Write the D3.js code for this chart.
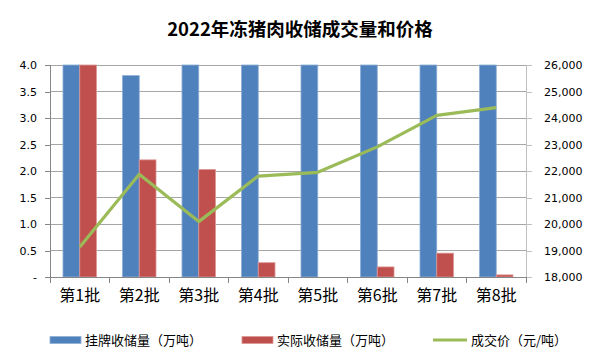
<!DOCTYPE html>
<html><head><meta charset="utf-8">
<script src="https://cdn.jsdelivr.net/npm/d3@7"></script>
<style>body{margin:0;background:#fff}</style>
</head><body>
<svg id="c" width="600" height="360"></svg>
<script>
const title = "2022年冻猪肉收储成交量和价格";
const categories = ["第1批","第2批","第3批","第4批","第5批","第6批","第7批","第8批"];
const listed = [4.0, 3.8, 4.0, 4.0, 4.0, 4.0, 4.0, 4.0];
const actual = [4.0, 2.21, 2.03, 0.27, 0, 0.19, 0.45, 0.04];
const price = [19130, 21880, 20090, 21810, 21950, 22910, 24100, 24390];
const leftTicks = [0, 0.5, 1.0, 1.5, 2.0, 2.5, 3.0, 3.5, 4.0];
const rightTicks = [18000, 19000, 20000, 21000, 22000, 23000, 24000, 25000, 26000];
const seriesNames = ["挂牌收储量（万吨）", "实际收储量（万吨）", "成交价（元/吨）"];
const colors = ["#4F81BD", "#C0504D", "#9BBB59"];

const svg = d3.select("#c");
const L = 50, R = 526, T = 65, B = 277;
const x = d3.scaleBand().domain(categories).range([L, R]);
const yL = d3.scaleLinear().domain([0, 4]).range([B, T]);
const yR = d3.scaleLinear().domain([18000, 26000]).range([B, T]);
const bw = x.bandwidth() / 3.55;

// gridlines
svg.append("g").selectAll("line").data(leftTicks).join("line")
  .attr("x1", L).attr("x2", R).attr("y1", d => yL(d)).attr("y2", d => yL(d))
  .attr("stroke", "#a6a6a6").attr("stroke-width", 1).attr("shape-rendering", "crispEdges");

// bars
const groups = svg.append("g").selectAll("g").data(categories).join("g");
groups.append("rect")
  .attr("x", (d, i) => x(d) + x.bandwidth() / 2 - bw)
  .attr("y", (d, i) => yL(listed[i]))
  .attr("width", bw).attr("height", (d, i) => B - yL(listed[i]))
  .attr("fill", colors[0]).attr("stroke", "#8eaed6").attr("stroke-width", 0.8);
groups.append("rect")
  .attr("x", (d, i) => x(d) + x.bandwidth() / 2)
  .attr("y", (d, i) => yL(actual[i]))
  .attr("width", bw).attr("height", (d, i) => B - yL(actual[i]))
  .attr("fill", colors[1]).attr("stroke", (d, i) => actual[i] > 0 ? "#dc9896" : "none").attr("stroke-width", 0.8);

// axes
const fontNum = "'DejaVu Sans', Verdana, sans-serif";
const fontCJK = "'Noto Sans CJK SC', sans-serif";
const axL = svg.append("g").attr("transform", `translate(${L},0)`)
  .call(d3.axisLeft(yL).tickValues(leftTicks).tickSize(5).tickPadding(8)
    .tickFormat(d => d === 0 ? "-" : d3.format(".1f")(d)));
const axR = svg.append("g").attr("transform", `translate(${R},0)`)
  .call(d3.axisRight(yR).tickValues(rightTicks).tickSize(6).tickPadding(12)
    .tickFormat(d3.format(",")));
const axB = svg.append("g").attr("transform", `translate(0,${B})`)
  .call(d3.axisBottom(x).tickSize(0).tickPadding(13));
[axL, axR].forEach(a => {
  a.selectAll("path").attr("stroke", "#868686").attr("shape-rendering", "crispEdges");
  a.selectAll("line").attr("stroke", "#868686").attr("shape-rendering", "crispEdges");
  a.selectAll("text").attr("font-family", fontNum).attr("font-size", 11).attr("fill", "#000");
});
axR.select("path").attr("stroke", "#bfbfbf");
axR.selectAll("line").attr("stroke", "#bfbfbf");
axB.select("path").attr("stroke", "#868686").attr("shape-rendering", "crispEdges");
axB.selectAll("text").attr("font-family", fontCJK).attr("font-size", 16).attr("fill", "#000");
// category boundary ticks
svg.append("g").selectAll("line").data(categories.concat(["end"])).join("line")
  .attr("x1", (d, i) => L + i * x.step()).attr("x2", (d, i) => L + i * x.step())
  .attr("y1", B).attr("y2", B + 6)
  .attr("stroke", "#868686").attr("shape-rendering", "crispEdges");

// line
const line = d3.line().x((d, i) => x(categories[i]) + x.bandwidth() / 2).y(d => yR(d));
svg.append("path").datum(price).attr("d", line)
  .attr("fill", "none").attr("stroke", colors[2]).attr("stroke-width", 3.2)
  .attr("stroke-linejoin", "round");

// title
svg.append("text").attr("x", 300).attr("y", 36).attr("text-anchor", "middle")
  .attr("font-family", fontCJK).attr("font-weight", "bold").attr("font-size", 18.5)
  .text(title);

// legend
const legX = [50, 242, 433];
const leg = svg.append("g").selectAll("g").data(seriesNames).join("g")
  .attr("transform", (d, i) => `translate(${legX[i]},340)`);
leg.each(function(d, i) {
  const g = d3.select(this);
  if (i < 2) {
    g.append("rect").attr("x", 0).attr("y", -3.5).attr("width", 31).attr("height", 7)
      .attr("fill", colors[i]).attr("stroke", i === 0 ? "#8eaed6" : "#dc9896").attr("stroke-width", 0.8);
  } else {
    g.append("line").attr("x1", 0).attr("x2", 34).attr("y1", 0).attr("y2", 0)
      .attr("stroke", colors[2]).attr("stroke-width", 3.2);
  }
  g.append("text").attr("x", i < 2 ? 35 : 38).attr("y", 0).attr("dy", "0.36em")
    .attr("font-family", fontCJK).attr("font-size", 13).attr("fill", "#000").text(d);
});
</script>
</body></html>
